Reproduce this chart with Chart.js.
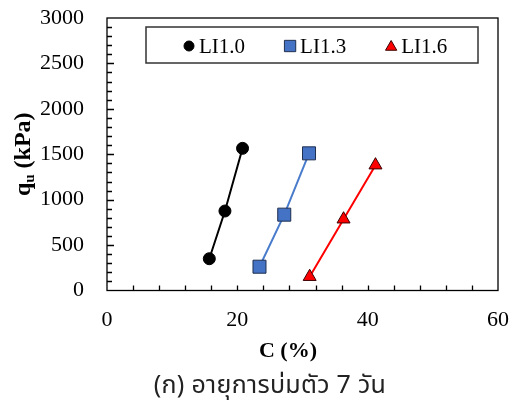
<!DOCTYPE html>
<html>
<head>
<meta charset="utf-8">
<script src="https://cdn.jsdelivr.net/npm/chart.js@4"></script>
<style>
  body { margin: 0; background: #fff; }
  #wrap { position: relative; width: 517px; height: 403px; }
  #caption {
    position: absolute; left: 0; width: 540px; top: 366px;
    text-align: center; font-family: "Noto Sans Thai", "Noto Sans", "DejaVu Sans", sans-serif;
    font-size: 25px; letter-spacing: 0.3px; color: #222;
  }
</style>
</head>
<body>
<div id="wrap">
  <canvas id="qChart" width="517" height="403"></canvas>
  <div id="caption">(ก) อายุการบ่มตัว 7 วัน</div>
</div>
<script>
// qu vs C data
const seriesLabels = ['LI1.0', 'LI1.3', 'LI1.6'];
const li10C = [15.7, 18.1, 20.8];
const li10Q = [350, 875, 1565];
const li13C = [23.4, 27.2, 31.0];
const li13Q = [262, 835, 1510];
const li16C = [31.1, 36.3, 41.2];
const li16Q = [152, 785, 1380];

const xTicks = [0, 20, 40, 60];
const yTicks = [0, 500, 1000, 1500, 2000, 2500, 3000];

const serif = '"Liberation Serif", "Times New Roman", serif';

const toPoints = (xs, ys) => xs.map((x, i) => ({ x: x, y: ys[i] }));

// box, inward ticks, axis titles and the boxed legend
const framePlugin = {
    id: 'frame',
    afterDraw(chart) {
        const ctx = chart.ctx;
        const a = chart.chartArea;
        const xs = chart.scales.x;
        const ys = chart.scales.y;
        ctx.save();
        ctx.strokeStyle = '#000';
        ctx.lineWidth = 1.3;
        ctx.strokeRect(a.left, a.top, a.right - a.left, a.bottom - a.top);

        ctx.beginPath();
        for (let v = 4; v < 60; v += 4) {
            const px = Math.round(xs.getPixelForValue(v)) + 0.5;
            ctx.moveTo(px, a.bottom);
            ctx.lineTo(px, a.bottom - 5);
        }
        for (let v = 100; v < 3000; v += 100) {
            const py = Math.round(ys.getPixelForValue(v)) + 0.5;
            ctx.moveTo(a.left, py);
            ctx.lineTo(a.left + (v % 500 === 0 ? 7 : 5), py);
        }
        ctx.stroke();

        // x title
        ctx.fillStyle = '#000';
        ctx.font = 'bold 22px ' + serif;
        ctx.textAlign = 'center';
        ctx.textBaseline = 'middle';
        ctx.fillText('C (%)', 288, 351);

        // y title with subscript
        ctx.save();
        ctx.translate(24, (a.top + a.bottom) / 2);
        ctx.rotate(-Math.PI / 2);
        ctx.textAlign = 'left';
        ctx.textBaseline = 'middle';
        const big = 'bold 24px ' + serif;
        const small = 'bold 15px ' + serif;
        ctx.font = big;
        const wq = ctx.measureText('q').width;
        const wr = ctx.measureText(' (kPa)').width;
        ctx.font = small;
        const wu = ctx.measureText('u').width;
        let x0 = -(wq + wu + wr) / 2;
        ctx.font = big;
        ctx.fillText('q', x0, 0);
        ctx.font = small;
        ctx.fillText('u', x0 + wq, 6);
        ctx.font = big;
        ctx.fillText(' (kPa)', x0 + wq + wu, 0);
        ctx.restore();

        // legend
        ctx.lineWidth = 1.5;
        ctx.strokeStyle = '#333';
        ctx.strokeRect(146, 27, 332, 36);
        ctx.font = '21px ' + serif;
        ctx.textAlign = 'left';
        ctx.textBaseline = 'middle';
        let x = 183;
        const cy = 46;
        chart.data.datasets.forEach(ds => {
            const r = ds.pointStyle === 'rect' ? 8 : (ds.pointStyle === 'triangle' ? 6.5 : 5);
            ctx.fillStyle = ds.pointBackgroundColor;
            ctx.strokeStyle = ds.pointBorderColor;
            ctx.lineWidth = 1;
            Chart.helpers.drawPoint(ctx, { pointStyle: ds.pointStyle, radius: r, borderWidth: 1 }, x + 6, cy + (ds.pointStyle === 'triangle' ? 1 : 0));
            ctx.fillStyle = '#000';
            ctx.fillText(ds.label, x + 16, cy + 1);
            x += 16 + ctx.measureText(ds.label).width + 39;
        });
        ctx.restore();
    }
};

new Chart(document.getElementById('qChart'), {
    type: 'scatter',
    data: {
        datasets: [
            {
                label: seriesLabels[0],
                data: toPoints(li10C, li10Q),
                showLine: true,
                borderColor: '#000',
                borderWidth: 2,
                pointStyle: 'circle',
                pointRadius: 6,
                pointBackgroundColor: '#000',
                pointBorderColor: '#000',
                pointBorderWidth: 1
            },
            {
                label: seriesLabels[1],
                data: toPoints(li13C, li13Q),
                showLine: true,
                borderColor: '#4a7ccc',
                borderWidth: 2,
                pointStyle: 'rect',
                pointRadius: 9.2,
                pointBackgroundColor: '#4472c4',
                pointBorderColor: '#1f2f4f',
                pointBorderWidth: 1
            },
            {
                label: seriesLabels[2],
                data: toPoints(li16C, li16Q),
                showLine: true,
                borderColor: '#ff0000',
                borderWidth: 2,
                pointStyle: 'triangle',
                pointRadius: 7.5,
                pointBackgroundColor: '#ff0000',
                pointBorderColor: '#3a0000',
                pointBorderWidth: 1
            }
        ]
    },
    options: {
        responsive: false,
        animation: false,
        layout: { padding: { top: 18, right: 19, left: 0, bottom: 72 } },
        plugins: {
            legend: { display: false },
            tooltip: { enabled: false }
        },
        scales: {
            x: {
                type: 'linear',
                min: 0,
                max: 60,
                afterBuildTicks: s => { s.ticks = xTicks.map(v => ({ value: v })); },
                afterFit: s => { s.height = 40.5; s.paddingLeft = 0; s.paddingRight = 0; },
                grid: { display: false },
                border: { display: false },
                ticks: {
                    color: '#000',
                    padding: 9,
                    maxRotation: 0,
                    callback: v => String(v),
                    font: { family: serif, size: 22 }
                }
            },
            y: {
                type: 'linear',
                min: 0,
                max: 3000,
                afterBuildTicks: s => { s.ticks = yTicks.map(v => ({ value: v })); },
                afterFit: s => { s.width = 107; s.paddingTop = 0; s.paddingBottom = 0; },
                grid: { display: false },
                border: { display: false },
                ticks: {
                    color: '#000',
                    padding: 15,
                    callback: v => String(v),
                    font: { family: serif, size: 22 }
                }
            }
        }
    },
    plugins: [framePlugin]
});
</script>
</body>
</html>
